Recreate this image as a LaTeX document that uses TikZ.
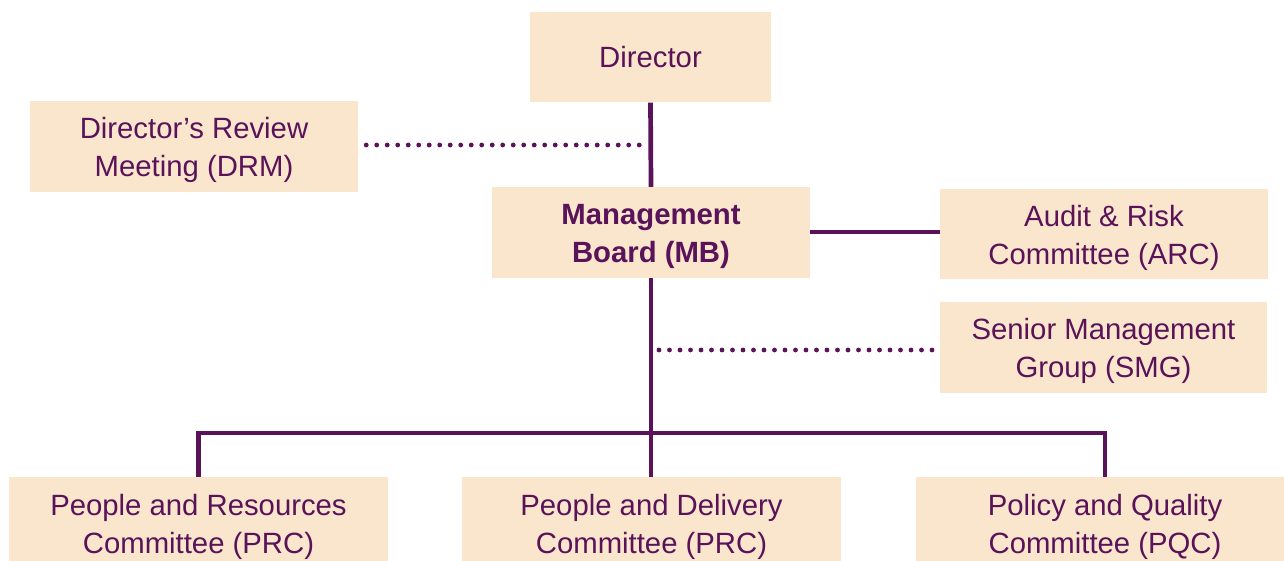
\documentclass[tikz,border=0pt]{standalone}
\usepackage{fontspec}
\setmainfont{Liberation Sans}
\definecolor{boxfill}{HTML}{F9E6CD}
\definecolor{plum}{HTML}{5A1258}
\newcommand\hlift{\rule{0pt}{28.5pt}}
\begin{document}
\begin{tikzpicture}[x=1pt,y=-1pt,
  orgbox/.style={fill=boxfill, draw=none, inner sep=0pt, align=center, text=plum,
    font=\fontsize{29.3}{38}\selectfont},
  solidlink/.style={draw=plum, line width=4.7pt},
  dotlink/.style={draw=plum, line width=4.8pt, line cap=round, dash pattern=on 0pt off 10.5pt}]
\useasboundingbox (0,0) rectangle (1284,561);
\clip (0,0) rectangle (1284,561);
\node[orgbox, minimum width=241pt, minimum height=90pt] (dir) at (650.5,57.5) {Director};
\node[orgbox, minimum width=328pt, minimum height=91pt] (drm) at (194,146.5) {\hlift Director’s Review\\Meeting (DRM)};
\node[orgbox, minimum width=318pt, minimum height=91pt, font=\fontsize{29.3}{38}\selectfont\bfseries] (mb) at (651,232.5) {\hlift Management\\Board (MB)};
\node[orgbox, minimum width=328pt, minimum height=90pt] (arc) at (1104,234) {\hlift Audit \& Risk\\Committee (ARC)};
\node[orgbox, minimum width=327pt, minimum height=91pt] (smg) at (1103.5,347.5) {\hlift Senior Management\\Group (SMG)};
\node[orgbox, minimum width=379pt, minimum height=92pt] (prc) at (198.5,523) {\hlift People and Resources\\Committee (PRC)};
\node[orgbox, minimum width=379pt, minimum height=92pt] (pdc) at (651.5,523) {\hlift People and Delivery\\Committee (PRC)};
\node[orgbox, minimum width=378pt, minimum height=92pt] (pqc) at (1105,523) {\hlift Policy and Quality\\Committee (PQC)};
\coordinate (bar) at (651,433);
\coordinate (drmend) at (641.5,145);
\coordinate (smgstart) at (659,350);
% solid links
\draw[solidlink] (dir.south) -- (mb.north);
\draw[solidlink] (mb.south) -- (pdc.north -| mb.south);
\draw[solidlink] (mb.east |- 0,232) -- (arc.west |- 0,232);
\draw[solidlink] (prc.north) -- (prc.north |- bar) -- (pqc.north |- bar) -- (pqc.north);
% dotted links
\draw[dotlink] ([xshift=8pt]drm.east |- drmend) -- (drmend);
\draw[dotlink] (smgstart) -- ([xshift=-7pt]smg.west |- smgstart);
\end{tikzpicture}
\end{document}
